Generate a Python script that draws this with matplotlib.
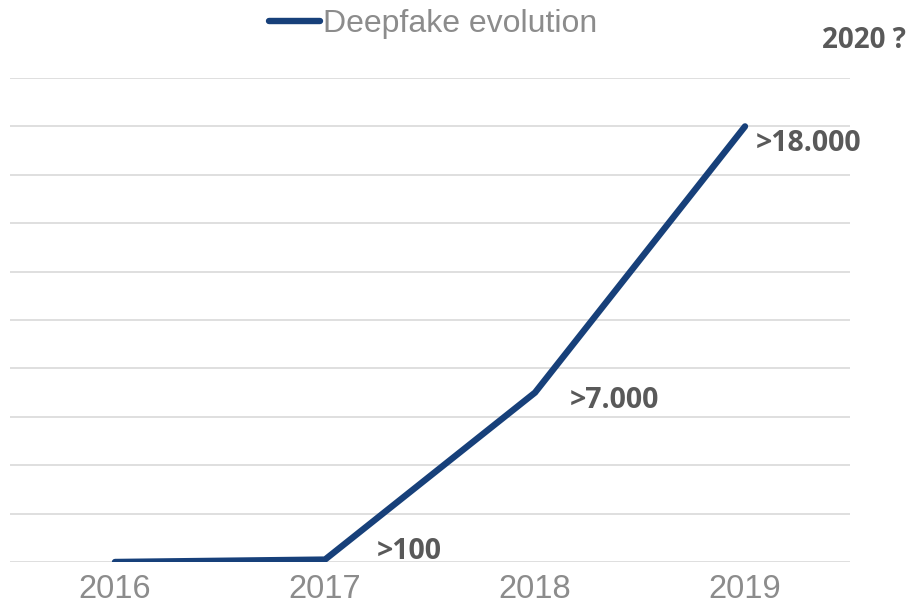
import matplotlib
matplotlib.use("Agg")
import matplotlib.pyplot as plt

years = ["2016", "2017", "2018", "2019"]
videos = [0, 100, 7000, 18000]
point_labels = ["", ">100", ">7.000", ">18.000"]
series_name = "Deepfake evolution"

line_color = "#17407a"
label_color = "#595959"
tick_color = "#8c8c8c"

fig = plt.figure(figsize=(9.13, 6.16), dpi=100)
ax = fig.add_axes([10 / 913, 54 / 616, 840 / 913, 484 / 616])

x = range(len(years))
ax.plot(x, videos, color=line_color, lw=4.6, solid_capstyle="round",
        solid_joinstyle="miter", label=series_name, zorder=3)

ax.set_xlim(-0.5, 3.5)
ax.set_ylim(0, 20000)
ax.set_yticks(range(0, 20001, 2000))
ax.set_yticklabels([])
ax.tick_params(axis="y", length=0)
ax.grid(axis="y", color="#d9d9d9", lw=1.2)
ax.set_axisbelow(True)
for s in ax.spines.values():
    s.set_visible(False)

ax.set_xticks(list(x))
ax.set_xticklabels(years, fontsize=23.5, color=tick_color, family="Liberation Sans")
ax.tick_params(axis="x", length=0, pad=9)

# point labels, offsets in points
offsets = [(0, 0), (37, 6), (25, -6), (8, -12)]
for i, lab in enumerate(point_labels):
    if lab:
        ax.annotate(lab, (i, videos[i]), xytext=offsets[i], textcoords="offset points",
                    ha="left", va="center", fontsize=20.5, fontweight="bold",
                    color=label_color, family="Open Sans")

fig.text(822 / 913, 1 - 40 / 616, "2020 ?", ha="left", va="center", fontsize=20,
         fontweight="bold", color=label_color, family="Open Sans")

leg = fig.legend(loc="center", bbox_to_anchor=(433 / 913, 1 - 24 / 616), frameon=False,
                 handlelength=1.6, handletextpad=0.1,
                 prop={"family": "Liberation Sans", "size": 23})
for t in leg.get_texts():
    t.set_color(tick_color)

fig.savefig("out.png", dpi=100)
